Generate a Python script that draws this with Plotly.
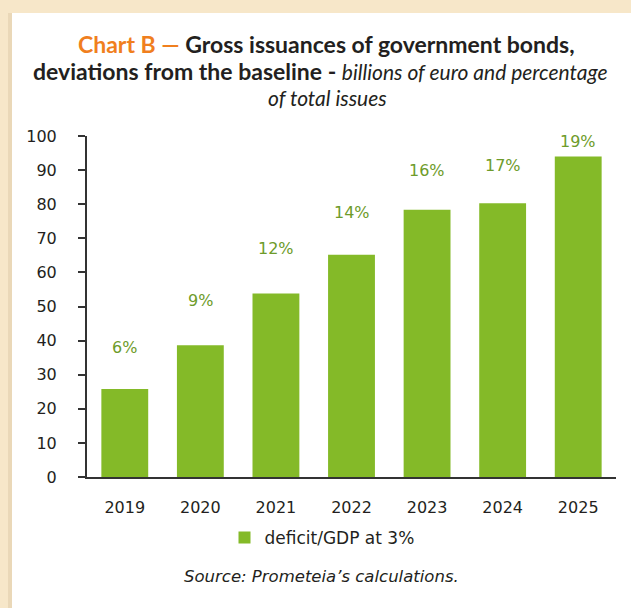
import plotly.graph_objects as go

years = ["2019", "2020", "2021", "2022", "2023", "2024", "2025"]
values = [25.8, 38.6, 53.8, 65.2, 78.4, 80.3, 94.0]
shares = ["6%", "9%", "12%", "14%", "16%", "17%", "19%"]
label_y = [38.0, 51.8, 67.1, 77.7, 89.9, 91.4, 98.5]
yticks = list(range(0, 101, 10))

W, H = 631, 608
L, R, T, B = 87, 15, 136, 131
pw, ph = W - L - R, H - T - B

def px_x(p):
    return (p - L) / pw

def px_y(p):
    return (H - B - p) / ph

TFONT = "Lato"
FONT = "DejaVu Sans"
GREEN = "#84BA28"
LABEL = "#6E9B2A"
DARK = "#231F20"

fig = go.Figure()
fig.add_trace(go.Bar(
    x=years, y=values, name="deficit/GDP at 3%",
    marker=dict(color=GREEN, line=dict(width=0)),
))

for i, (s, ly) in enumerate(zip(shares, label_y)):
    fig.add_annotation(x=i, y=ly, text=s, showarrow=False,
                       font=dict(family=FONT, size=16, color=LABEL),
                       xanchor="center", yanchor="middle")

# background frame
fig.add_shape(type="rect", xref="paper", yref="paper", layer="below",
              x0=px_x(0), x1=px_x(W), y0=px_y(H), y1=px_y(0),
              fillcolor="#F7E7C9", line=dict(width=0))
fig.add_shape(type="rect", xref="paper", yref="paper", layer="below",
              x0=px_x(8), x1=px_x(12), y0=px_y(H), y1=px_y(13),
              fillcolor="#EAD8B8", line=dict(width=0))
fig.add_shape(type="rect", xref="paper", yref="paper", layer="below",
              x0=px_x(12), x1=px_x(W), y0=px_y(H), y1=px_y(13),
              fillcolor="white", line=dict(width=0))

title_lines = [
    ("<span style='color:#F07F1E'><b>Chart B — </b></span>"
     "<b>Gross issuances of government bonds,</b>", 326, 44),
    ("<b>deviations from the baseline - </b>"
     "<i><span style='font-size:21px'>billions of euro and percentage</span></i>", 320, 71),
    ("<i><span style='font-size:21px'>of total issues</span></i>", 327, 97),
]
for txt, cx, cy in title_lines:
    fig.add_annotation(xref="paper", yref="paper", x=px_x(cx), y=px_y(cy),
                       text=txt, showarrow=False, xanchor="center", yanchor="middle",
                       font=dict(family=TFONT, size=23, color=DARK), align="center")

fig.add_annotation(xref="paper", yref="paper", x=px_x(321), y=px_y(576),
                   text="<i>Source: Prometeia’s calculations.</i>", showarrow=False,
                   xanchor="center", yanchor="middle",
                   font=dict(family=FONT, size=16.5, color=DARK))

fig.update_layout(
    width=W, height=H,
    margin=dict(l=L, r=R, t=T, b=B),
    paper_bgcolor="white", plot_bgcolor="rgba(0,0,0,0)",
    bargap=0.38,
    showlegend=True,
    legend=dict(orientation="h", x=px_x(322), y=px_y(538), xanchor="center", yanchor="middle",
                font=dict(family=FONT, size=17, color=DARK), bgcolor="rgba(0,0,0,0)",
                itemwidth=30),
    font=dict(family=FONT, color=DARK),
)
fig.update_yaxes(range=[0, 100], tickvals=yticks, ticks="outside", ticklen=7, tickwidth=2,
                 tickcolor="#333", showline=True, linecolor="#333", linewidth=2,
                 showgrid=False, zeroline=False, ticklabelstandoff=18,
                 tickfont=dict(family=FONT, size=16, color=DARK))
fig.update_xaxes(type="category", range=[-0.5, 6.5], showline=True, linecolor="#333",
                 linewidth=2, ticks="", showgrid=False,
                 tickfont=dict(family=FONT, size=16, color=DARK),
                 ticklabelstandoff=15)

fig.write_html("out.html")
